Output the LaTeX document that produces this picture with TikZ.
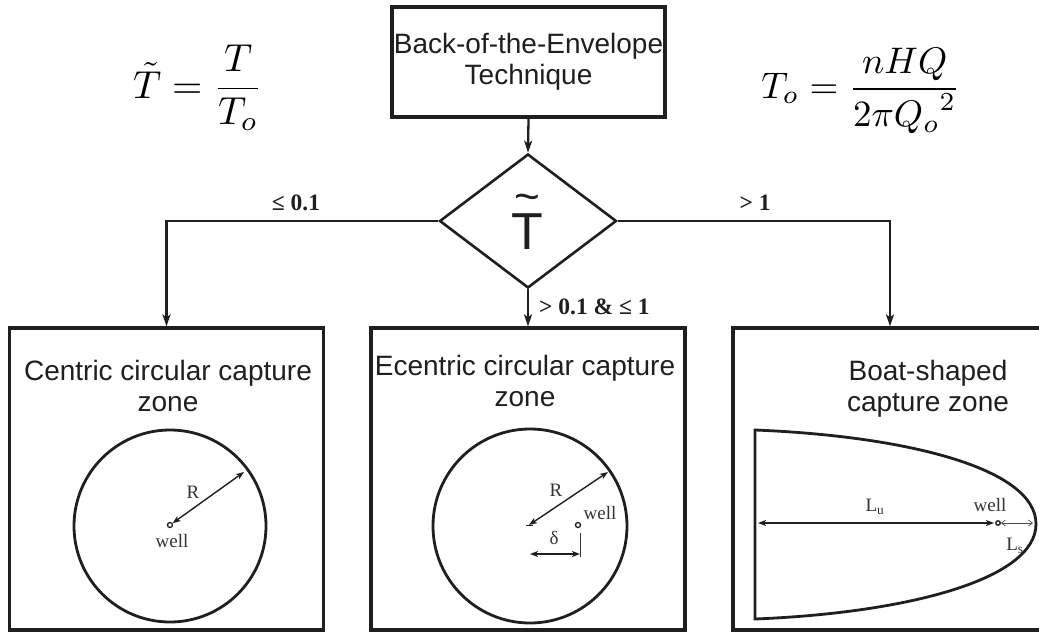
\documentclass[tikz,border=0pt]{standalone}
\usepackage{fontspec}
\setmainfont{Liberation Sans}
\newfontfamily\serifx{Liberation Serif}
\usetikzlibrary{shapes.geometric,arrows.meta}
\begin{document}
\begin{tikzpicture}[x=1pt,y=-1pt,
  boxnode/.style={draw=black!88,line width=3.2pt,rectangle,inner sep=0,minimum width=314pt,minimum height=302pt},
  conn/.style={draw=black!88,line width=2.3pt,-{Stealth[length=12pt,width=8pt,inset=3pt]}},
  zone/.style={draw=black!88,line width=2.8pt},
  dim/.style={draw=black!88,line width=1.4pt,{Stealth[length=8pt,width=6pt,inset=2pt]}-{Stealth[length=8pt,width=6pt,inset=2pt]}},
  thindim/.style={draw=black!70,line width=0.7pt,{Straight Barb[length=4pt,width=6pt]}-{Straight Barb[length=4pt,width=6pt]}},
  wellpt/.style={circle,draw=black!88,line width=1.3pt,inner sep=0,minimum size=5pt},
  title/.style={font=\fontsize{28}{31}\selectfont,text=black!88,align=center,inner sep=0},
  small/.style={font=\serifx\fontsize{19}{22}\selectfont,text=black!80,inner sep=0},
  cond/.style={font=\serifx\bfseries\fontsize{23.5}{26}\selectfont,text=black!88,inner sep=0}
]
\useasboundingbox (0,0) rectangle (1039,632);

% formulas
\node[scale=3.9,inner sep=0] (f1) at (198,88) {$\displaystyle \tilde T = \frac{T}{T_o}$};
\node[scale=3.7,inner sep=0] (f2) at (861,91) {$\displaystyle T_o = \frac{nHQ}{2\pi {Q_o}^2}$};

% top box and decision
\node[boxnode,minimum width=273pt,minimum height=110pt,title] (top) at (528.5,62) {Back-of-the-Envelope\\Technique};
\node[diamond,draw=black!88,line width=2.6pt,minimum width=177pt,minimum height=134pt,inner sep=0] (dia) at (528,221) {};
\node[font=\fontsize{52}{52}\selectfont,text=black!88,inner sep=0] (tvar) at (527,232) {T};
\node[font=\fontsize{44}{44}\selectfont,text=black!88,inner sep=0] (ttil) at (527,203) {\textasciitilde};

% boxes
\node[boxnode] (box1) at (166.5,479) {};
\node[boxnode] (box2) at (528,479) {};
\node[boxnode] (box3) at (890,479) {};

% connectors
\draw[conn] (top.south) -- (dia.north);
\draw[conn] (dia.west) -| (box1.north);
\draw[conn] (dia.east) -| (box3.north);
\draw[conn] (dia.south) -- (box2.north);
\node[cond] (c1) at (296,203) {≤ 0.1};
\node[cond,anchor=west] (c2) at (539,307) {> 0.1 \& ≤ 1};
\node[cond] (c3) at (755,203) {> 1};

% box titles
\node[title] (t1) at (168,386) {Centric circular capture\\zone};
\node[title] (t2) at (525,381) {Ecentric circular capture\\zone};
\node[title] (t3) at (928,389) {Boat-shaped\\capture zone};

% centric circle
\draw[zone] (170,526) circle[radius=96];
\node[wellpt] (w1) at (170,525) {};
\coordinate (r1) at (244,472);
\draw[dim] (w1) -- (r1);
\node[small] (lr1) at (193,492) {R};
\node[small] (lw1) at (172,541) {well};

% eccentric circle
\draw[zone] (530,526) circle[radius=97];
\coordinate (ctr2) at (529,525);
\coordinate (r2) at (608,472);
\draw[dim] (ctr2) -- (r2);
\draw[draw=black!88,line width=1pt] (526,525) -- (533,525);
\node[wellpt] (w2) at (578,525) {};
\node[small] (lw2) at (600,513) {well};
\node[small] (lr2) at (556,490) {R};
\coordinate (tk1) at (580,533);
\coordinate (tk2) at (580,557);
\draw[draw=black!80,line width=1pt] (tk1) -- (tk2);
\coordinate (d1) at (530,554);
\coordinate (d2) at (580,554);
\draw[dim] (d1) -- (d2);
\node[small] (ld) at (554,538) {δ};

% boat
\draw[zone] (755,430) .. controls (905,436) and (1036,468) .. (1036,524)
  .. controls (1036,580) and (905,613) .. (755,619) -- cycle;
\node[wellpt,minimum size=4.5pt] (w3) at (998,523) {};
\coordinate (lu1) at (758,523);
\coordinate (lu2) at (994,523);
\draw[dim] (lu1) -- (lu2);
\coordinate (ls2) at (1033,523);
\draw[thindim] (w3.east) -- (ls2);
\node[small] (lw3) at (990,505) {well};
\node[small] (llu) at (875,507) {L\textsubscript{u}};
\node[small] (lls) at (1015,546) {L\textsubscript{s}};
\end{tikzpicture}
\end{document}
